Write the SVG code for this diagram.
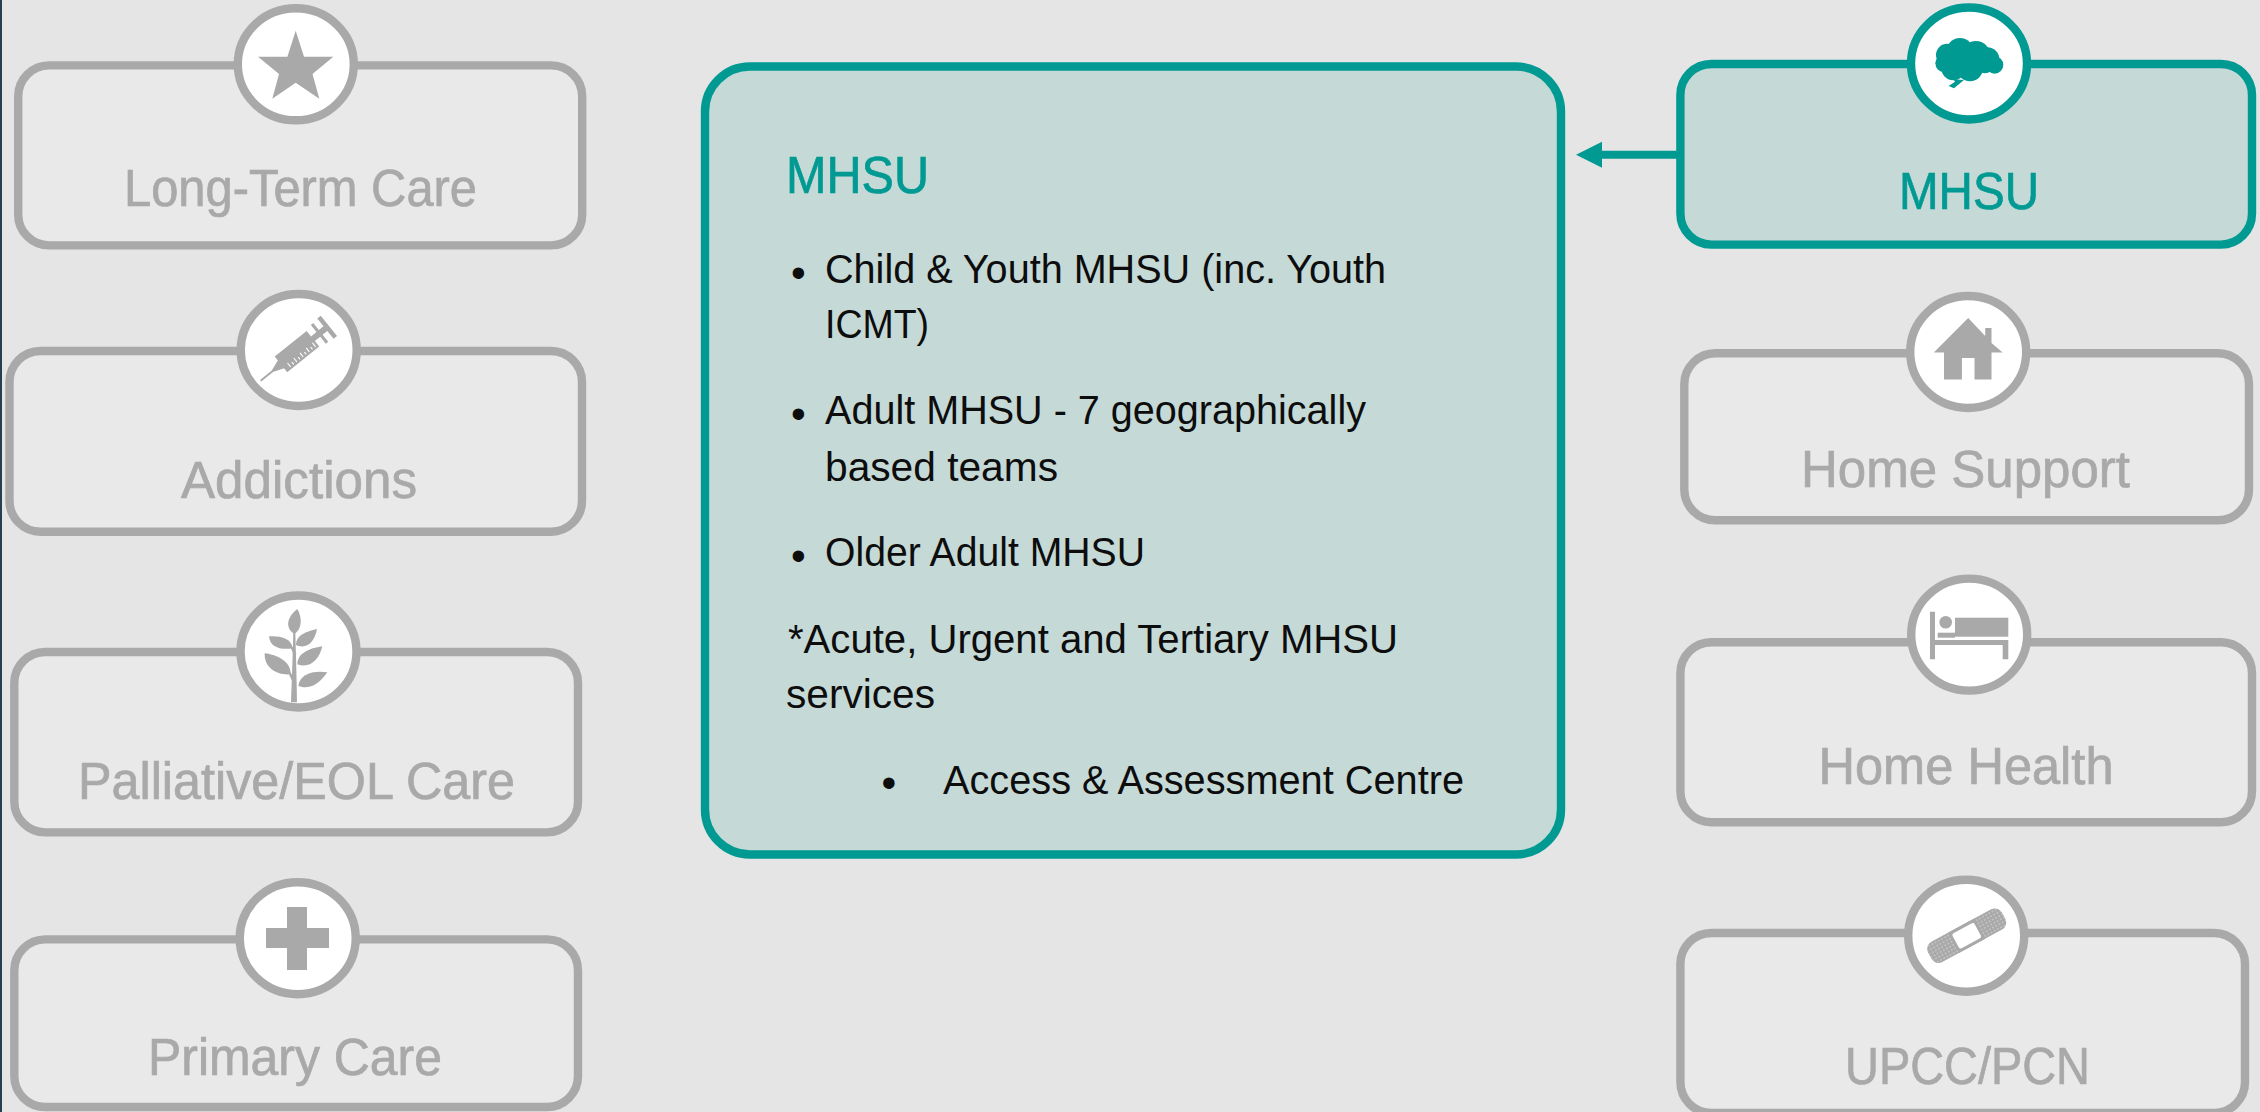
<svg xmlns="http://www.w3.org/2000/svg" width="2260" height="1112" viewBox="0 0 2260 1112">
<style>
text{font-family:"Liberation Sans",Arial,sans-serif}
.box{fill:#e9e9e9;stroke:#a9a9a9;stroke-width:8.4}
.active{fill:#c5d9d7;stroke:#009a93;stroke-width:8.4}
.ring{fill:#fff;stroke:#a9a9a9;stroke-width:8.4}
.ringA{fill:#fff;stroke:#009a93;stroke-width:8.4}
.ico{fill:#a9a9a9}
.icoA{fill:#009a93}
.lab{font-size:51px;fill:#a9a9a9;stroke:#a9a9a9;stroke-width:.7}
.labA{font-size:51px;fill:#009a93;stroke:#009a93;stroke-width:.7}
.body{font-size:41.5px;fill:#0d0d0d}
.bul{font-size:42px;fill:#0d0d0d}
</style>
<defs>
<marker id="head" markerUnits="userSpaceOnUse" markerWidth="27" markerHeight="28" refX="1" refY="14" orient="auto"><path d="M0 1L26 14L0 27Z" fill="#009a93"/></marker>
<pattern id="dots" width="3.6" height="3.6" patternUnits="userSpaceOnUse"><rect width="3.6" height="3.6" fill="#a9a9a9"/><circle cx="1.8" cy="1.8" r=".65" fill="#e6e6e6"/></pattern>
</defs>
<rect width="2260" height="1112" fill="#e5e5e5"/>
<rect width="2" height="1112" fill="#24414f"/>

<g id="connectors"><line x1="1677" y1="154.8" x2="1601" y2="154.8" stroke="#009a93" stroke-width="8" marker-end="url(#head)"/></g>

<g id="long-term-care">
<rect class="box" x="18.2" y="65.4" width="564" height="180" rx="31"/>
<ellipse class="ring" cx="295.8" cy="64.3" rx="58" ry="56"/>
<path class="ico" d="M295.7 30.7L304 56.7H333.3L312.5 74L319.3 98.7L295.7 82.7L272.3 98.7L279 74L258 56.7H287.4Z"/>
<text class="lab" x="124" y="205.7" textLength="353" lengthAdjust="spacingAndGlyphs">Long-Term Care</text>
</g>

<g id="addictions">
<rect class="box" x="9.5" y="351" width="572.5" height="180.7" rx="31"/>
<ellipse class="ring" cx="298.7" cy="350" rx="58" ry="56"/>
<g class="ico" transform="translate(260.7 380.7) rotate(-38.8)">
<path d="M0 -1H15L26 -5V-10H67V-3H74V-12H77V-3H83V-13H87.5V13H83V3H77V12H74V3H67V10H26V5L15 1H0Z"/>
<path d="M32 8V3M36 8V5M40 8V3M44 8V5M48 8V3M52 8V5M56 8V3M60 8V5M64 8V3" stroke="#fff" stroke-width="1.1" fill="none"/>
</g>
<text class="lab" x="181" y="497.5" textLength="236" lengthAdjust="spacingAndGlyphs">Addictions</text>
</g>

<g id="palliative-eol-care">
<rect class="box" x="14.3" y="652" width="563.7" height="180.4" rx="31"/>
<ellipse class="ring" cx="298.5" cy="651.5" rx="58" ry="56"/>
<g class="ico" transform="translate(220 585) scale(.3333)">
<path d="M213 352C215 300 218 220 220 140H226C228 220 231 300 231 352Z"/>
<path d="M232 72C246 95 248 132 223 147C198 132 196 100 232 72Z"/>
<path d="M228 180C228 150 258 140 291 132C285 168 262 195 228 180Z"/>
<path d="M218 190C185 195 150 190 147 154C182 152 215 160 218 190Z"/>
<path d="M232 238C232 205 268 190 307 184C298 222 272 252 232 238Z"/>
<path d="M212 268C172 272 132 250 134 205C172 210 212 228 212 268Z"/>
<path d="M235 303C238 268 280 255 322 262C305 285 280 318 235 303Z"/>
<path d="M224 215L212 188L218 186L229 206ZM223 302L205 264L211 261L228 290Z"/>
</g>
<text class="lab" x="78" y="799.4" textLength="437" lengthAdjust="spacingAndGlyphs">Palliative/EOL Care</text>
</g>

<g id="primary-care">
<rect class="box" x="14.3" y="939.4" width="563.7" height="167.6" rx="31"/>
<ellipse class="ring" cx="297.7" cy="938.2" rx="58" ry="56"/>
<path class="ico" d="M287 907H307V928H329V948H307V970H287V948H266V928H287Z"/>
<text class="lab" x="148" y="1074.5" textLength="294" lengthAdjust="spacingAndGlyphs">Primary Care</text>
</g>

<g id="mhsu-detail">
<rect class="active" x="705" y="66.5" width="856" height="788" rx="45"/>
<text class="labA" x="786" y="192.6" textLength="143" lengthAdjust="spacingAndGlyphs">MHSU</text>
<text class="bul" x="791.1" y="286.7">•</text>
<text class="body" x="825" y="283" textLength="561" lengthAdjust="spacingAndGlyphs">Child &amp; Youth MHSU (inc. Youth</text>
<text class="body" x="825" y="338.3" textLength="104" lengthAdjust="spacingAndGlyphs">ICMT)</text>
<text class="bul" x="791.1" y="427.7">•</text>
<text class="body" x="825" y="424" textLength="541" lengthAdjust="spacingAndGlyphs">Adult MHSU - 7 geographically</text>
<text class="body" x="825" y="481.3" textLength="233" lengthAdjust="spacingAndGlyphs">based teams</text>
<text class="bul" x="791.1" y="569.7">•</text>
<text class="body" x="825" y="566" textLength="320" lengthAdjust="spacingAndGlyphs">Older Adult MHSU</text>
<text class="body" x="788" y="652.7" textLength="610" lengthAdjust="spacingAndGlyphs">*Acute, Urgent and Tertiary MHSU</text>
<text class="body" x="786" y="707.8" textLength="149" lengthAdjust="spacingAndGlyphs">services</text>
<text class="bul" x="881.6" y="797.2">•</text>
<text class="body" x="943" y="793.5" textLength="521" lengthAdjust="spacingAndGlyphs">Access &amp; Assessment Centre</text>
</g>

<g id="mhsu">
<rect class="active" x="1680.4" y="64" width="571.6" height="180.6" rx="31"/>
<ellipse class="ringA" cx="1969" cy="63.5" rx="58" ry="56"/>
<g class="icoA" transform="translate(1890 0) scale(.3333)">
<circle cx="172" cy="165" r="34"/><circle cx="162" cy="190" r="26"/><circle cx="210" cy="155" r="41"/><circle cx="258" cy="165" r="42"/><circle cx="292" cy="178" r="36"/><circle cx="314" cy="195" r="26"/><circle cx="190" cy="205" r="36"/><circle cx="240" cy="205" r="39"/><circle cx="285" cy="195" r="25"/>
<path d="M190 238L222 240L192 265L176 258L195 245Z"/>
</g>
<text class="labA" x="1899" y="208.6" textLength="140" lengthAdjust="spacingAndGlyphs">MHSU</text>
</g>

<g id="home-support">
<rect class="box" x="1684.3" y="353.3" width="564.7" height="167" rx="31"/>
<ellipse class="ring" cx="1968.2" cy="352" rx="58" ry="56"/>
<path class="ico" d="M1968.2 318L1985.2 336V328H1991.5V343L2002.6 352.5H1991.5V379.6H1974.5V357.9H1961.9V379.6H1944V352.5H1933.8Z"/>
<text class="lab" x="1801" y="486.8" textLength="329" lengthAdjust="spacingAndGlyphs">Home Support</text>
</g>

<g id="home-health">
<rect class="box" x="1680.4" y="642.2" width="571.6" height="180" rx="31"/>
<ellipse class="ring" cx="1969.2" cy="634.6" rx="58" ry="56"/>
<g class="ico">
<path d="M1930 611.7H1935V640H2008.3V659.3H2002.7V645H1935V659.3H1930Z"/>
<rect x="1955" y="617.7" width="53.3" height="19"/>
<rect x="1937.7" y="632.7" width="17.3" height="5"/>
<circle cx="1945.7" cy="622.3" r="6.3"/>
</g>
<text class="lab" x="1818.5" y="783.6" textLength="295" lengthAdjust="spacingAndGlyphs">Home Health</text>
</g>

<g id="upcc-pcn">
<rect class="box" x="1680.4" y="933" width="564.6" height="180" rx="31"/>
<ellipse class="ring" cx="1966.2" cy="935.7" rx="58" ry="56"/>
<g transform="translate(1966.7 935.7) rotate(-28.5)">
<rect x="-42" y="-11.5" width="84" height="23" rx="8" fill="url(#dots)"/>
<rect x="-15" y="-11.5" width="30" height="23" class="ico"/>
<rect x="-12.5" y="-8.5" width="25" height="17" rx="2" fill="#fff"/>
</g>
<text class="lab" x="1845" y="1084" textLength="245" lengthAdjust="spacingAndGlyphs">UPCC/PCN</text>
</g>
</svg>
